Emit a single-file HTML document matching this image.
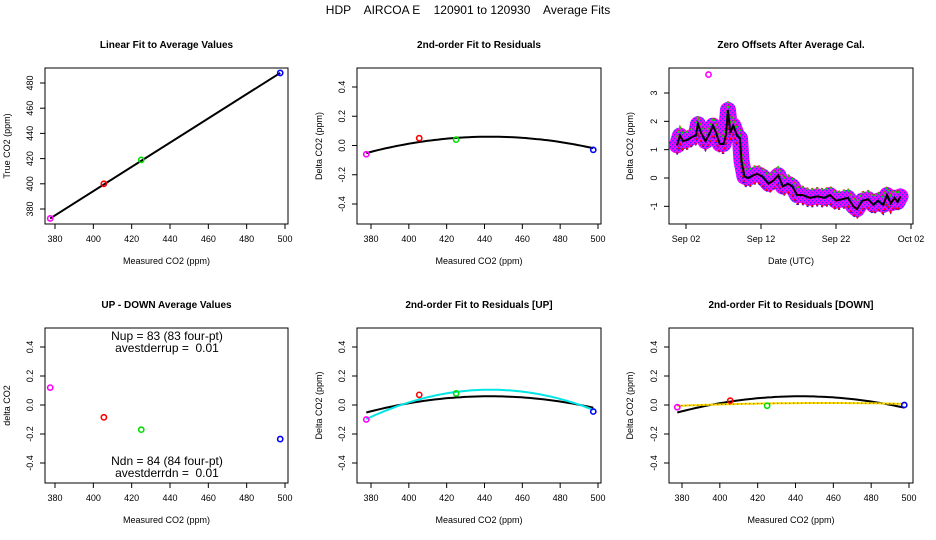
<!DOCTYPE html>
<html><head><meta charset="utf-8">
<style>
html,body{margin:0;padding:0;background:#fff;}
svg{display:block;font-family:"Liberation Sans",Arial,sans-serif;}
</style></head>
<body>
<svg id="chart" width="936" height="540" viewBox="0 0 936 540" xmlns="http://www.w3.org/2000/svg">
<defs>
<pattern id="chk" width="4" height="4" patternUnits="userSpaceOnUse">
<rect width="4" height="4" fill="#ff00ff"/>
<rect width="1.3" height="1.3" fill="#3030ff"/>
<rect x="2" y="2" width="1.3" height="1.3" fill="#3030ff"/>
</pattern>
</defs>
<text x="468" y="14" text-anchor="middle" font-size="12" style="white-space:pre">HDP    AIRCOA E    120901 to 120930    Average Fits</text>
</svg>
<script>
// ---- data ----
const co2Measured = [377.5, 405.5, 425, 497.5];
const co2True = [372.5, 400, 419, 488];
const pointColors = ['#ff00ff', '#ff0000', '#00dd00', '#0000ff'];
const residAll = [-0.06, 0.05, 0.04, -0.03];
const fitAllCoef = [0.06, 1.45e-4, -2.63e-5];   // c0 + c1(x-440) + c2(x-440)^2
const upMinusDown = [0.12, -0.085, -0.17, -0.235];
const residUp = [-0.1, 0.07, 0.08, -0.045];
const fitUpCoef = [0.105, 3.0e-4, -4.7e-5];
const residDown = [-0.015, 0.03, -0.005, 0.0];
const fitDownCoef = [0.013, 1.0e-4, -3.2e-6];
const xTicks = [380, 400, 420, 440, 460, 480, 500];
const yTicksTrue = [380, 400, 420, 440, 460, 480];
const yTicksDelta = [-0.4, -0.2, 0.0, 0.2, 0.4];
const yTickLabelsDelta = ['-0.4', '-0.2', '0.0', '0.2', '0.4'];
const tsDays = [0.8,1.2,1.6,2.2,2.8,3.3,3.6,4.0,4.6,5.2,5.6,6.0,6.5,7.0,7.3,7.6,7.9,8.3,8.8,9.2,9.4,9.8,10.3,11.0,11.5,12.2,13.0,13.6,14.3,14.9,15.6,16.2,16.8,17.5,18.5,19.5,20.5,21.2,22.0,22.8,23.6,24.3,24.8,25.5,26.3,27.0,27.6,28.3,28.8,29.3,29.8,30.2,30.6];
const tsMean = [1.15,1.5,1.3,1.35,1.45,1.5,1.9,1.6,1.3,1.6,1.85,1.6,1.2,1.2,1.5,2.4,1.6,1.85,1.5,1.4,0.6,0.05,0.0,0.1,0.15,0.05,-0.2,-0.1,0.1,-0.3,-0.2,-0.3,-0.6,-0.6,-0.7,-0.65,-0.7,-0.6,-0.8,-0.75,-0.7,-1.0,-1.1,-0.8,-0.75,-0.95,-0.8,-0.95,-0.6,-0.9,-0.7,-0.85,-0.65];
const tsOutlierDay = [5.0];
const tsOutlierVal = [3.65];
const tsXTicks = [2, 12, 22, 32];
const tsXTickLabels = ['Sep 02', 'Sep 12', 'Sep 22', 'Oct 02'];
const tsYTicks = [-1, 0, 1, 2, 3];

// ---- helpers ----
const svg = document.getElementById('chart');
const NS = 'http://www.w3.org/2000/svg';
function mk(tag, attrs, parent) {
  const e = document.createElementNS(NS, tag);
  for (const k in attrs) e.setAttribute(k, attrs[k]);
  (parent || svg).appendChild(e);
  return e;
}
function lin(d0, d1, p0, p1) { return v => p0 + (v - d0) * (p1 - p0) / (d1 - d0); }

function panel(opt) {
  const g = mk('g', {});
  
  
  const b = mk('rect', {x: opt.box[0], y: opt.box[1], width: opt.box[2] - opt.box[0], height: opt.box[3] - opt.box[1], fill: 'none', stroke: '#000', 'stroke-width': 1}, g);
  
  
  const t = mk('text', {x: (opt.box[0] + opt.box[2]) / 2, y: opt.box[1] - 20, 'text-anchor': 'middle', 'font-size': 10, 'font-weight': 'bold'}, g);
  t.textContent = opt.title;
  
  
  const xa = mk('g', {}, g);
  
  
  const yb = opt.box[3];
  mk('line', {x1: opt.sx(opt.xt[0]), x2: opt.sx(opt.xt[opt.xt.length - 1]), y1: yb, y2: yb, stroke: '#000'}, xa);
  opt.xt.forEach((v, i) => {
    const x = opt.sx(v);
    mk('line', {x1: x, x2: x, y1: yb, y2: yb + 5, stroke: '#000'}, xa);
    const tl = mk('text', {x: x, y: yb + 18, 'text-anchor': 'middle', 'font-size': 9}, xa);
    tl.textContent = opt.xl ? opt.xl[i] : v;
    
    
  });
  const xt = mk('text', {x: (opt.box[0] + opt.box[2]) / 2, y: yb + 40, 'text-anchor': 'middle', 'font-size': 9}, g);
  xt.textContent = opt.xlabel;
  
  
  const ya = mk('g', {}, g);
  
  
  const xb = opt.box[0];
  mk('line', {x1: xb, x2: xb, y1: opt.sy(opt.yt[0]), y2: opt.sy(opt.yt[opt.yt.length - 1]), stroke: '#000'}, ya);
  opt.yt.forEach((v, i) => {
    const y = opt.sy(v);
    mk('line', {x1: xb - 5, x2: xb, y1: y, y2: y, stroke: '#000'}, ya);
    const tx = xb - 12;
    const tl = mk('text', {x: tx, y: y, 'text-anchor': 'middle', 'font-size': 9, transform: `rotate(-90 ${tx} ${y})`}, ya);
    tl.textContent = opt.yl ? opt.yl[i] : v;
    
    
  });
  const yx = opt.ylabX, yy = (opt.box[1] + opt.box[3]) / 2;
  const ytt = mk('text', {x: yx, y: yy, 'text-anchor': 'middle', 'font-size': 9, transform: `rotate(-90 ${yx} ${yy})`}, g);
  ytt.textContent = opt.ylabel;
  
  
  return g;
}
function points(g, sx, sy, xs, ys) {
  xs.forEach((v, i) => {
    const c = mk('circle', {cx: sx(v), cy: sy(ys[i]), r: 2.6, fill: 'none', stroke: pointColors[i], 'stroke-width': 1.6}, g);
    
    
  });
}
function curve(g, sx, sy, coef, x0, x1, attrs, name) {
  let d = '';
  for (let k = 0; k <= 60; k++) {
    const x = x0 + (x1 - x0) * k / 60, dx = x - 440;
    const y = coef[0] + coef[1] * dx + coef[2] * dx * dx;
    d += (k ? 'L' : 'M') + sx(x).toFixed(1) + ' ' + sy(y).toFixed(1);
  }
  const p = mk('path', Object.assign({d: d, fill: 'none'}, attrs), g);
  
  
}

{
  const sx = lin(380, 500, 55, 285), sy = lin(380, 480, 209, 83);
  const g = panel({name: 'linear-fit-panel', box: [45, 68, 288, 224], sx, sy, xt: xTicks, yt: yTicksTrue, title: 'Linear Fit to Average Values', xlabel: 'Measured CO2 (ppm)', ylabel: 'True CO2 (ppm)', ylabX: 10});
  const l = mk('line', {x1: sx(co2Measured[0]), y1: sy(co2True[0]), x2: sx(co2Measured[3]), y2: sy(co2True[3]), stroke: '#000', 'stroke-width': 2}, g);
  
  
  points(g, sx, sy, co2Measured, co2True);
}
{
  const sx = lin(380, 500, 371, 598), sy = lin(-0.4, 0.4, 204, 87);
  const g = panel({name: 'residual-fit-panel', box: [357, 68, 601, 224], sx, sy, xt: xTicks, yt: yTicksDelta, yl: yTickLabelsDelta, title: '2nd-order Fit to Residuals', xlabel: 'Measured CO2 (ppm)', ylabel: 'Delta CO2 (ppm)', ylabX: 322});
  curve(g, sx, sy, fitAllCoef, 377.5, 497.5, {stroke: '#000', 'stroke-width': 2}, 'quadratic-fit-curve');
  points(g, sx, sy, co2Measured, residAll);
}
{
  const sx = lin(2, 32, 686, 911), sy = lin(0, 3, 178, 93);
  const g = panel({name: 'zero-offsets-panel', box: [669, 68, 913, 224], sx, sy, xt: tsXTicks, xl: tsXTickLabels, yt: tsYTicks, title: 'Zero Offsets After Average Cal.', xlabel: 'Date (UTC)', ylabel: 'Delta CO2 (ppm)', ylabX: 633});
  const path = (off) => tsDays.map((d, i) => (i ? 'L' : 'M') + sx(d).toFixed(1) + ' ' + sy(tsMean[i] + off).toFixed(1)).join('');
  const band = mk('path', {d: path(0), fill: 'none', stroke: 'url(#chk)', 'stroke-width': 16, 'stroke-linejoin': 'round', 'stroke-linecap': 'round'}, g);
  
  
  [['#ff0000', 0.3], ['#00dd00', 0.28], ['#0000ff', -0.32], ['#ff0000', -0.3]].forEach(([c, o]) => {
    const e = mk('path', {d: path(o), fill: 'none', stroke: c, 'stroke-width': 1.8, 'stroke-dasharray': '2 3'}, g);
    
    
  });
  const m = mk('path', {d: path(0), fill: 'none', stroke: '#000', 'stroke-width': 2}, g);
  
  
  tsOutlierDay.forEach((d, i) => {
    const c = mk('circle', {cx: sx(d), cy: sy(tsOutlierVal[i]), r: 2.6, fill: 'none', stroke: '#ff00ff', 'stroke-width': 1.6}, g);
    
    
  });
}
{
  const sx = lin(380, 500, 55, 285), sy = lin(-0.4, 0.4, 463, 347);
  const g = panel({name: 'up-down-panel', box: [45, 328, 288, 483], sx, sy, xt: xTicks, yt: yTicksDelta, yl: yTickLabelsDelta, title: 'UP - DOWN Average Values', xlabel: 'Measured CO2 (ppm)', ylabel: 'delta CO2', ylabX: 10});
  points(g, sx, sy, co2Measured, upMinusDown);
  [['Nup = 83 (83 four-pt)', 340], ['avestderrup =  0.01', 352], ['Ndn = 84 (84 four-pt)', 465], ['avestderrdn =  0.01', 477]].forEach(([s, y]) => {
    const t = mk('text', {x: 167, y: y, 'text-anchor': 'middle', 'font-size': 12, style: 'white-space:pre'}, g);
    t.textContent = s;
    
    
  });
}
{
  const sx = lin(380, 500, 371, 598), sy = lin(-0.4, 0.4, 463, 347);
  const g = panel({name: 'residual-up-panel', box: [357, 328, 601, 483], sx, sy, xt: xTicks, yt: yTicksDelta, yl: yTickLabelsDelta, title: '2nd-order Fit to Residuals [UP]', xlabel: 'Measured CO2 (ppm)', ylabel: 'Delta CO2 (ppm)', ylabX: 322});
  curve(g, sx, sy, fitAllCoef, 377.5, 497.5, {stroke: '#000', 'stroke-width': 2}, 'quadratic-fit-curve');
  curve(g, sx, sy, fitUpCoef, 377.5, 497.5, {stroke: '#00e5e5', 'stroke-width': 2}, 'up-fit-curve');
  points(g, sx, sy, co2Measured, residUp);
}
{
  const sx = lin(380, 500, 682, 909), sy = lin(-0.4, 0.4, 463, 347);
  const g = panel({name: 'residual-down-panel', box: [669, 328, 913, 483], sx, sy, xt: xTicks, yt: yTicksDelta, yl: yTickLabelsDelta, title: '2nd-order Fit to Residuals [DOWN]', xlabel: 'Measured CO2 (ppm)', ylabel: 'Delta CO2 (ppm)', ylabX: 633});
  curve(g, sx, sy, fitAllCoef, 377.5, 497.5, {stroke: '#000', 'stroke-width': 2}, 'quadratic-fit-curve');
  curve(g, sx, sy, fitDownCoef, 377.5, 497.5, {stroke: '#f0e000', 'stroke-width': 2}, 'down-fit-curve');
  curve(g, sx, sy, fitDownCoef, 377.5, 497.5, {stroke: '#ff0000', 'stroke-width': 1, 'stroke-dasharray': '1 3'}, 'down-fit-dotted');
  points(g, sx, sy, co2Measured, residDown);
}
</script>
</body></html>
